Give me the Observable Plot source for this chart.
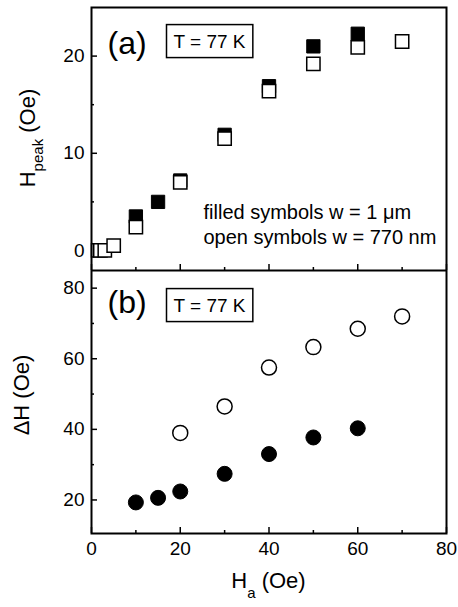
<!DOCTYPE html>
<html><head><meta charset="utf-8">
<script src="https://cdn.jsdelivr.net/npm/d3@7"></script>
<script src="https://cdn.jsdelivr.net/npm/@observablehq/plot@0.6"></script>
<style>body{margin:0;background:#fff;} #chart svg{display:block;}</style>
</head><body><div id="chart"></div>
<script>
// ---- data ----
const haFilledA = [10, 15, 20, 30, 40, 50, 60];
const hpeakFilled = [3.5, 5.0, 7.2, 11.9, 16.9, 21.0, 22.3];
const haOpenA = [1.5, 2, 3, 5, 10, 20, 30, 40, 50, 60, 70];
const hpeakOpen = [0, 0, 0, 0.5, 2.4, 7.0, 11.5, 16.4, 19.2, 20.9, 21.5];
const haFilledB = [10, 15, 20, 30, 40, 50, 60];
const dHFilled = [19.3, 20.6, 22.4, 27.4, 33.0, 37.7, 40.3];
const haOpenB = [20, 30, 40, 50, 60, 70];
const dHOpen = [39.0, 46.5, 57.5, 63.3, 68.5, 72.0];
const xMajor = [0, 20, 40, 60, 80];
const xMinor = [10, 30, 50, 70];
const yMajorA = [0, 10, 20];
const yMinorA = [5, 15];
const yMajorB = [20, 40, 60, 80];
const yMinorB = [30, 50, 70];
const panelA = "(a)", panelB = "(b)", tempLabel = "T = 77 K";
const legendLines = ["filled symbols w = 1 \u03BCm", "open symbols w = 770 nm"];

const W = 458, ML = 91, MR = 12;
const PW = W - ML - MR;
const PH = 263;
const font = "'Liberation Sans', Arial, Helvetica, sans-serif";
const toRows = (xs, ys) => xs.map((x, i) => ({x, y: ys[i]}));

function ticksMarks(yMaj, yMin) {
  return [
    Plot.tickY(yMaj, {y: d => d, insetRight: PW - 6, strokeWidth: 1.5, stroke: "#000"}),
    Plot.tickY(yMin, {y: d => d, insetRight: PW - 3, strokeWidth: 1.5, stroke: "#000"}),
    Plot.tickX(xMajor, {x: d => d, insetTop: PH - 6, strokeWidth: 1.5, stroke: "#000"}),
    Plot.tickX(xMinor, {x: d => d, insetTop: PH - 3, strokeWidth: 1.5, stroke: "#000"})
  ];
}

const plotA = Plot.plot({
  width: W, height: 270,
  marginLeft: ML, marginRight: MR, marginTop: 7, marginBottom: 0,
  style: {fontFamily: font, fontSize: "19px", color: "#000", background: "#fff"},
  x: {domain: [0, 80], axis: null},
  y: {domain: [-2.06, 25], ticks: yMajorA, tickSize: 0, tickPadding: 7, label: null},
  marks: [
    ...ticksMarks(yMajorA, yMinorA),
    Plot.dot(toRows(haFilledA, hpeakFilled), {x: "x", y: "y", symbol: "square", r: 7.5, fill: "#000", stroke: "#000", strokeWidth: 1}),
    Plot.dot(toRows(haOpenA, hpeakOpen), {x: "x", y: "y", symbol: "square", r: 7.5, fill: "#fff", stroke: "#000", strokeWidth: 1.5}),
    Plot.text([panelA], {frameAnchor: "top-left", dx: 16, dy: 36, lineAnchor: "middle", textAnchor: "start", fontSize: 32, text: d => d}),
    Plot.text([tempLabel], {frameAnchor: "top-left", dx: 82, dy: 34, lineAnchor: "middle", textAnchor: "start", fontSize: 19, text: d => d}),
    Plot.text([legendLines.join("\n")], {frameAnchor: "bottom-left", dx: 112, dy: -27, lineAnchor: "bottom", textAnchor: "start", fontSize: 20, lineHeight: 1.25, text: d => d}),
    Plot.frame({stroke: "#000", strokeWidth: 2})
  ]
});

const plotB = Plot.plot({
  width: W, height: 337,
  marginLeft: ML, marginRight: MR, marginTop: 0, marginBottom: 74,
  style: {fontFamily: font, fontSize: "19px", color: "#000", background: "#fff"},
  x: {domain: [0, 80], ticks: xMajor, tickSize: 0, tickPadding: 8, label: null},
  y: {domain: [10.5, 85], ticks: yMajorB, tickSize: 0, tickPadding: 7, label: null},
  marks: [
    ...ticksMarks(yMajorB, yMinorB),
    Plot.dot(toRows(haOpenB, dHOpen), {x: "x", y: "y", r: 7.5, fill: "#fff", stroke: "#000", strokeWidth: 1.5}),
    Plot.dot(toRows(haFilledB, dHFilled), {x: "x", y: "y", r: 7.5, fill: "#000", stroke: "#000", strokeWidth: 1}),
    Plot.text([panelB], {frameAnchor: "top-left", dx: 16, dy: 32, lineAnchor: "middle", textAnchor: "start", fontSize: 32, text: d => d}),
    Plot.text([tempLabel], {frameAnchor: "top-left", dx: 82, dy: 35, lineAnchor: "middle", textAnchor: "start", fontSize: 19, text: d => d}),
    Plot.frame({stroke: "#000", strokeWidth: 2})
  ]
});

const chart = document.getElementById("chart");
chart.appendChild(plotA);
chart.appendChild(plotB);

function boxAround(svg, label) {
  const s = d3.select(svg);
  s.selectAll("text").filter(function() { return this.textContent === label; }).each(function() {
    const b = this.getBBox();
    const parent = this.parentNode;
    const r = d3.select(parent).insert("rect", ":first-child")
      .attr("x", b.x - 7).attr("y", b.y - 6)
      .attr("width", b.width + 14).attr("height", b.height + 12)
      .attr("fill", "#fff").attr("stroke", "#000").attr("stroke-width", 1.5);
    const tr = this.getAttribute("transform");
    if (tr) r.attr("transform", tr);
  });
}
boxAround(plotA, tempLabel);
boxAround(plotB, tempLabel);

// axis titles with subscripts
function yTitle(svg, cx, cy, main, sub, rest) {
  const t = d3.select(svg).append("text")
    .attr("transform", `translate(${cx},${cy}) rotate(-90)`)
    .attr("text-anchor", "middle").attr("font-size", 22).attr("fill", "#000");
  t.append("tspan").text(main);
  if (sub) {
    t.append("tspan").attr("font-size", 15).attr("dy", 8).text(sub);
    t.append("tspan").attr("dy", -8).text(rest);
  } else {
    t.append("tspan").text(rest);
  }
}
yTitle(plotA, 35, 138, "H", "peak", " (Oe)");
yTitle(plotB, 29, 125, "\u0394H", null, " (Oe)");

const xt = d3.select(plotB).append("text")
  .attr("x", ML + PW / 2).attr("y", 318)
  .attr("text-anchor", "middle").attr("font-size", 22).attr("fill", "#000");
xt.append("tspan").text("H");
xt.append("tspan").attr("font-size", 15).attr("dy", 10).text("a");
xt.append("tspan").attr("dy", -10).text(" (Oe)");
</script>
</body></html>
